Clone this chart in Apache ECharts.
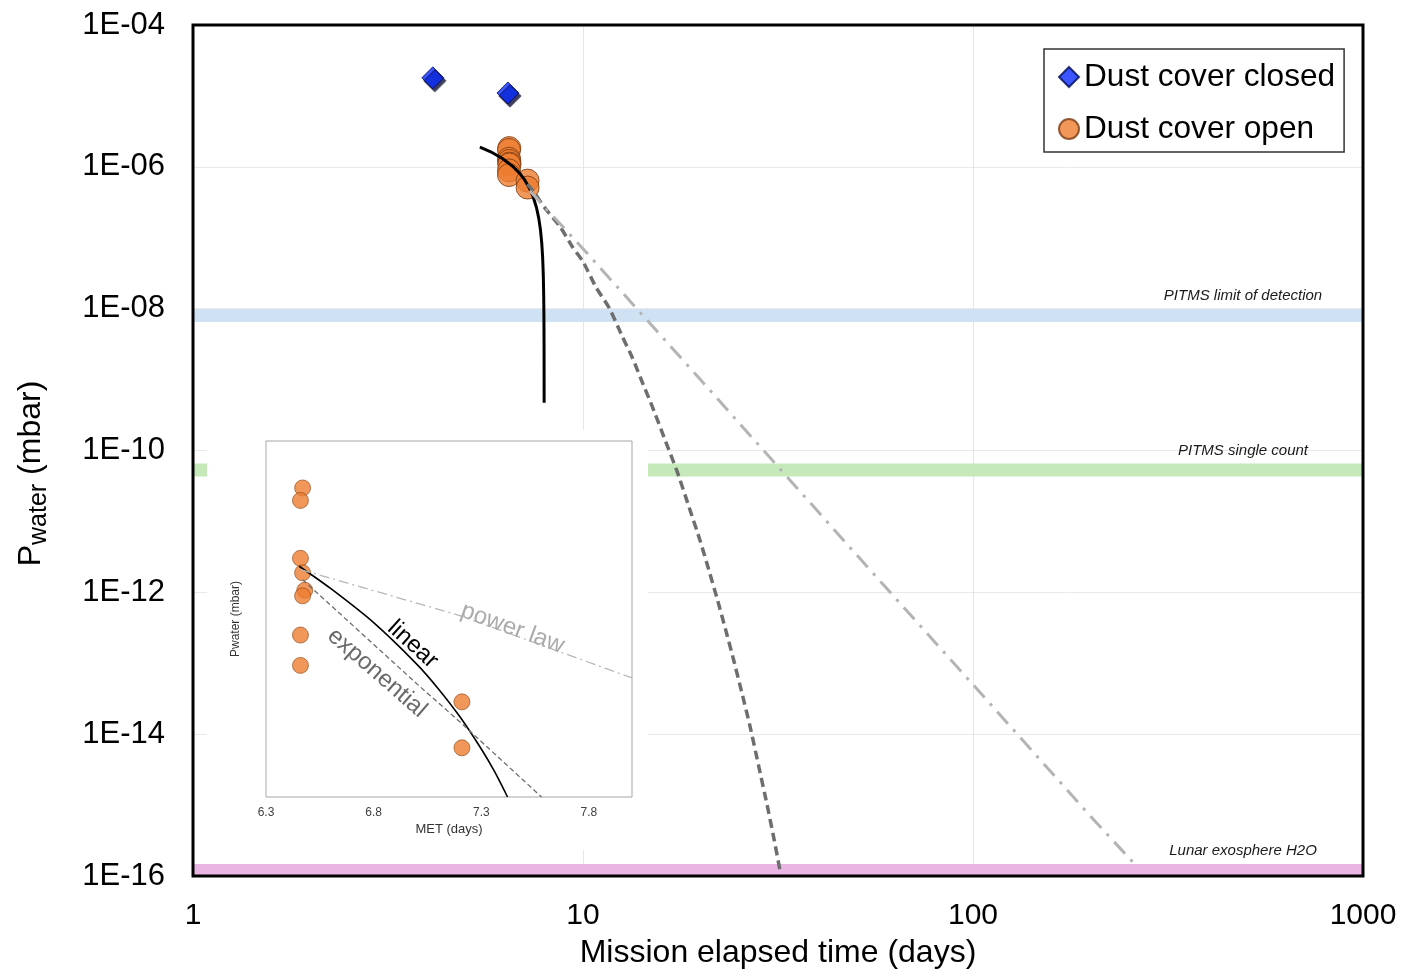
<!DOCTYPE html>
<html><head><meta charset="utf-8">
<script src="https://cdn.jsdelivr.net/npm/echarts@6/dist/echarts.min.js"></script>
<style>html,body{margin:0;padding:0;background:#fff}#c{width:1401px;height:969px}</style>
</head><body><div id="c"></div>
<script>
// ---------- data ----------
const xTickValues = [1, 10, 100, 1000];
const yTickValues = [1e-16, 1e-14, 1e-12, 1e-10, 1e-8, 1e-6, 1e-4];
const insetXTicks = [6.3, 6.8, 7.3, 7.8];

const closedDays = [4.12, 6.42];
const closedP = [1.8e-5, 1.1e-5];
const openDays = [6.47, 6.46, 6.46, 6.47, 6.48, 6.47, 6.46, 6.46, 7.21, 7.21];
const openP = [1.84e-6, 1.73e-6, 1.30e-6, 1.21e-6, 1.11e-6, 1.08e-6, 8.9e-7, 7.66e-7, 6.4e-7, 5.1e-7];

const linearFit = [[5.44,1.90e-6],[5.8,1.63e-6],[6.2,1.32e-6],[6.6,1.02e-6],[6.9,7.95e-7],[7.1,6.43e-7],[7.3,4.92e-7],[7.45,3.79e-7],[7.6,2.65e-7],[7.7,1.89e-7],[7.78,1.29e-7],[7.84,8.3e-8],[7.88,5.3e-8],[7.91,3.0e-8],[7.93,1.5e-8],[7.94,7.6e-9],[7.945,3.8e-9],[7.948,1.5e-9],[7.9494,4.7e-10]];
const expFit = [[7.2,5.7e-7],[7.44,4.6e-7],[8.0,2.6e-7],[8.73,1.44e-7],[9.4,7.4e-8],[10,4.6e-8],[10.8,2.0e-8],[11.7,1.0e-8],[12.6,4.1e-9],[13.4,2.0e-9],[14.2,9.1e-10],[15.1,4.0e-10],[16.2,1.45e-10],[17.4,5.2e-11],[18.7,1.6e-11],[20,5.2e-12],[21.0,2.1e-12],[22.1,8.0e-13],[23.2,3.0e-13],[24.3,1.15e-13],[25.5,4.0e-14],[26.8,1.3e-14],[28.2,3.6e-15],[29.6,1.05e-15],[30.8,3.6e-16],[32,1.2e-16]];
const powerFit = [[7.3,4.6e-7],[10,7e-8],[20,1e-9],[50,3.5e-12],[100,5e-14],[200,7e-16],[262,1.4e-16]];

const bandNames = ['PITMS limit of detection', 'PITMS single count', 'Lunar exosphere H2O'];
const bandValues = [8e-9, 5.3e-11, 1.2e-16];

const insetLinear = [[6.454,1.25e-6],[6.6,1.12e-6],[6.8,9.46e-7],[7.0,7.71e-7],[7.1,6.83e-7],[7.2,5.95e-7],[7.3,5.07e-7],[7.36,4.55e-7],[7.422,4.0e-7]];
const insetExp = [[6.47,1.17e-6],[7.0,7.0e-7],[7.2,5.8e-7],[7.58,4.0e-7]];
const insetPower = [[6.46,1.23e-6],[7.2,9.8e-7],[8.0,7.2e-7]];

// ---------- styles ----------
const FF = "'Liberation Sans', Arial, sans-serif";
const bandColors = ['#cfe2f3', '#c6e9b9', '#e9b5e3'];
const ORANGE = '#ed7d31';
const openPts = openDays.map((d, i) => [d, openP[i]]);
const closedPts = closedDays.map((d, i) => [d, closedP[i]]);

function expLabel(v) {
  const e = Math.round(Math.log10(v));
  return '1E' + (e < 0 ? '-' : '+') + String(Math.abs(e)).padStart(2, '0');
}

const chart = echarts.init(document.getElementById('c'), null, {renderer: 'canvas'});

const series = [];
bandNames.forEach((n, i) => {
  series.push({
    type: 'line', name: n, xAxisIndex: 0, yAxisIndex: 0, z: 2, silent: true,
    symbol: 'circle', symbolSize: 0, showSymbol: true,
    lineStyle: {color: bandColors[i], width: 13},
    itemStyle: {color: bandColors[i]},
    data: [[xTickValues[0], bandValues[i]], {value: [xTickValues[xTickValues.length - 1], bandValues[i]],
      label: {show: true, formatter: n, position: 'top', align: 'center', offset: [-120, -7],
        fontStyle: 'italic', fontSize: 15, color: '#1a1a1a', fontFamily: FF}}]
  });
});
series.push({
  type: 'scatter', name: 'Dust cover closed', xAxisIndex: 0, yAxisIndex: 0, z: 3,
  symbol: 'diamond', symbolSize: 22,
  itemStyle: {color: '#0a2cff', borderColor: '#000a55', borderWidth: 1,
    shadowColor: 'rgba(0,0,40,0.95)', shadowOffsetX: 2, shadowOffsetY: 3, shadowBlur: 1},
  data: closedPts
});
series.push({
  type: 'scatter', name: 'Dust cover open', xAxisIndex: 0, yAxisIndex: 0, z: 3,
  symbol: 'circle', symbolSize: 23,
  itemStyle: {color: ORANGE, borderColor: '#7a3a10', borderWidth: 1},
  data: openPts
});
series.push({
  type: 'line', name: 'linear', xAxisIndex: 0, yAxisIndex: 0, z: 4, silent: true,
  showSymbol: false,
  lineStyle: {color: '#000', width: 3}, data: linearFit
});
series.push({
  type: 'line', name: 'exponential', xAxisIndex: 0, yAxisIndex: 0, z: 4, silent: true,
  showSymbol: false, smooth: 0.2,
  lineStyle: {color: '#6e6e6e', width: 3.5, type: [9, 5]}, data: expFit
});
series.push({
  type: 'line', name: 'power law', xAxisIndex: 0, yAxisIndex: 0, z: 4, silent: true,
  showSymbol: false,
  lineStyle: {color: '#b4b4b4', width: 3, type: [16, 8, 3, 8]}, data: powerFit
});
// inset
const annot = (txt, color, rot, off) => ({show: true, formatter: txt, position: 'inside', rotate: rot,
  offset: off, fontSize: 24, color: color, fontFamily: FF});
series.push({
  type: 'scatter', name: 'inset open', xAxisIndex: 1, yAxisIndex: 1, z: 12,
  symbol: 'circle', symbolSize: 16,
  itemStyle: {color: ORANGE, borderColor: '#8a4515', borderWidth: 0.8},
  data: openPts
});
series.push({
  type: 'line', name: 'inset linear', xAxisIndex: 1, yAxisIndex: 1, z: 13, silent: true,
  symbol: 'circle', symbolSize: 0, showSymbol: true, smooth: 0.3,
  lineStyle: {color: '#000', width: 1.6}, itemStyle: {color: 'transparent'},
  data: insetLinear.map((p, i) => i === 3 ? {value: p, label: annot('linear', '#000', -42, [-16, -12])} : p)
});
series.push({
  type: 'line', name: 'inset exponential', xAxisIndex: 1, yAxisIndex: 1, z: 13, silent: true,
  symbol: 'circle', symbolSize: 0, showSymbol: true,
  lineStyle: {color: '#6e6e6e', width: 1.3, type: [5, 3]}, itemStyle: {color: 'transparent'},
  data: insetExp.map((p, i) => i === 1 ? {value: p, label: annot('exponential', '#6a6a6a', -41, [-37, 18])} : p)
});
series.push({
  type: 'line', name: 'inset power law', xAxisIndex: 1, yAxisIndex: 1, z: 13, silent: true,
  symbol: 'circle', symbolSize: 0, showSymbol: true,
  lineStyle: {color: '#b8b8b8', width: 1.3, type: [10, 4, 2, 4]}, itemStyle: {color: 'transparent'},
  data: insetPower.map((p, i) => i === 1 ? {value: p, label: annot('power law', '#ababab', -20, [54, -6])} : p)
});

const option = {
  animation: false,
  backgroundColor: '#fff',
  grid: [
    {left: 193, top: 25, right: 38, bottom: 93, show: true, borderColor: '#000', borderWidth: 3, z: 6,
      outerBoundsMode: 'none', containLabel: false},
    {left: 266, top: 441, width: 366, height: 356, show: true, borderColor: '#a6a6a6', borderWidth: 1, backgroundColor: '#fff', z: 11,
      outerBoundsMode: 'none', containLabel: false}
  ],
  graphic: [{type: 'rect', shape: {x: 207, y: 430, width: 441, height: 420}, style: {fill: '#fff'}, z: 10, silent: true}],
  legend: {
    show: true, orient: 'vertical', left: 1044, top: 49, z: 20,
    padding: [12, 9, 7, 14], itemGap: 20, itemWidth: 20, itemHeight: 20,
    borderColor: '#333', borderWidth: 1.5, backgroundColor: '#fff',
    textStyle: {fontSize: 31.6, color: '#000', fontFamily: FF},
    data: [
      {name: 'Dust cover closed', icon: 'diamond', itemStyle: {shadowColor: 'transparent', shadowBlur: 0, shadowOffsetX: 0, shadowOffsetY: 0}},
      {name: 'Dust cover open', icon: 'circle'}
    ]
  },
  xAxis: [
    {type: 'log', logBase: 10, min: 1, max: 1000, gridIndex: 0, z: 1,
      axisLine: {show: false}, axisTick: {show: false, customValues: xTickValues},
      axisLabel: {customValues: xTickValues, formatter: v => String(Math.round(v)), fontSize: 30, color: '#000', margin: 25, fontFamily: FF},
      splitLine: {show: true, lineStyle: {color: '#e6e6e6', width: 1}},
      name: 'Mission elapsed time (days)', nameLocation: 'middle', nameGap: 61,
      nameTextStyle: {fontSize: 32, color: '#000', fontFamily: FF}},
    {type: 'value', min: 6.3, max: 8.0, gridIndex: 1, z: 12,
      axisLine: {show: false}, axisTick: {show: false, customValues: insetXTicks},
      axisLabel: {customValues: insetXTicks, formatter: v => v.toFixed(1), fontSize: 12, color: '#404040', margin: 10, fontFamily: FF},
      splitLine: {show: false},
      name: 'MET (days)', nameLocation: 'middle', nameGap: 26,
      nameTextStyle: {fontSize: 13, color: '#333', fontFamily: FF}}
  ],
  yAxis: [
    {type: 'log', logBase: 10, min: 1e-16, max: 1e-4, gridIndex: 0, z: 1,
      axisLine: {show: false}, axisTick: {show: false, customValues: yTickValues},
      axisLabel: {customValues: yTickValues, formatter: expLabel, fontSize: 31, color: '#000', margin: 28, fontFamily: FF},
      splitLine: {show: true, lineStyle: {color: '#e9e9e9', width: 1}},
      name: '{p|P}{s|water}{p| (mbar)}', nameLocation: 'middle', nameGap: 146, nameRotate: 90,
      nameTextStyle: {padding: [0, 46, 0, 0], rich: {
        p: {fontSize: 32, lineHeight: 32, color: '#000', fontFamily: FF},
        s: {fontSize: 25, lineHeight: 12, height: 16, verticalAlign: 'bottom', color: '#000', fontFamily: FF}
      }}},
    {type: 'log', logBase: 10, min: 4.0e-7, max: 2.32e-6, gridIndex: 1, z: 12,
      axisLine: {show: false}, axisTick: {show: false}, axisLabel: {show: false},
      splitLine: {show: false},
      name: 'Pwater (mbar)', nameLocation: 'middle', nameGap: 24,
      nameTextStyle: {fontSize: 12, color: '#333', fontFamily: FF}}
  ],
  series: series
};
chart.setOption(option);
</script>
</body></html>
